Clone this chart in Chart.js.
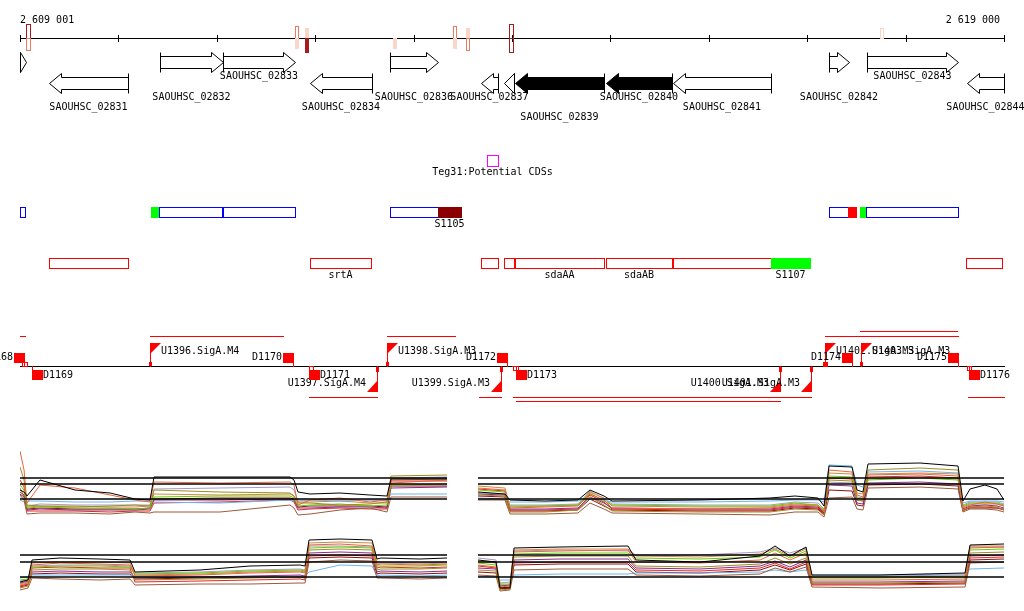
<!DOCTYPE html>
<html>
<head>
<meta charset="utf-8">
<script src="https://cdn.jsdelivr.net/npm/chart.js@4.4.1/dist/chart.umd.min.js"></script>
<style>
  body { margin: 0; background: #fff; width: 1024px; height: 611px; overflow: hidden; position: relative; }
  canvas { position: absolute; left: 0; }
</style>
</head>
<body>
<canvas id="genomeChart" width="1024" height="430" style="top:0px"></canvas>
<canvas id="plusChart" width="1024" height="85" style="top:440px"></canvas>
<canvas id="minusChart" width="1024" height="81" style="top:530px"></canvas>
<script>
// genomic window shown
const viewStart = 2609001;
const viewEnd = 2619000;
const axisTicks = [2609001, 2610000, 2611000, 2612000, 2613000, 2614000, 2615000, 2616000, 2617000, 2618000, 2619000];

// annotated CDS
const geneNames = ["", "SAOUHSC_02831", "SAOUHSC_02832", "SAOUHSC_02833", "SAOUHSC_02834", "SAOUHSC_02836", "SAOUHSC_02837", "", "SAOUHSC_02839", "SAOUHSC_02840", "SAOUHSC_02841", "SAOUHSC_02842", "SAOUHSC_02843", "SAOUHSC_02844"];
const geneStart = [2608420, 2609296, 2610424, 2611064, 2611948, 2612761, 2613686, 2613919, 2614031, 2614956, 2615637, 2617222, 2617608, 2618624];
const geneEnd = [2609062, 2610099, 2611064, 2611795, 2612578, 2613249, 2613858, 2614021, 2614935, 2615626, 2616632, 2617425, 2618533, 2619230];
const geneStrand = ["+", "-", "+", "+", "-", "+", "-", "-", "-", "-", "-", "+", "+", "-"];
const geneSelected = [false, false, false, false, false, false, false, false, true, true, false, false, false, false];
const geneLabelLane = [-1, 2, 1, 0, 2, 1, 1, -1, 3, 1, 2, 1, 0, 2];

// signals on the coordinate axis
const signalStart = [2609062, 2609062, 2611795, 2611795, 2611897, 2611897, 2612791, 2613401, 2613401, 2613533, 2613533, 2613970, 2613970, 2617740];
const signalEnd = [2609103, 2609103, 2611826, 2611826, 2611917, 2611917, 2612811, 2613431, 2613431, 2613553, 2613553, 2614011, 2614011, 2617771];
const signalStrand = ["+", "-", "+", "-", "+", "-", "-", "+", "-", "+", "-", "+", "-", "+"];
const signalLevel = [3, 2, 2, 1, 1, 3, 1, 2, 1, 1, 2, 3, 3, 1];
const signalFilled = [false, false, false, true, true, true, true, false, true, true, false, false, false, false];

// Teg31 potential CDS
const potentialStart = [2613747];
const potentialEnd = [2613858];
const potentialLabel = "Teg31:Potential CDSs";

// segment tracks
const upperSegStart = [2608800, 2610332, 2610413, 2611064, 2612761, 2613249, 2617222, 2617415, 2617537, 2617598];
const upperSegEnd = [2609052, 2610413, 2611054, 2611795, 2613249, 2613482, 2617415, 2617496, 2617598, 2618533];
const upperSegKind = ["blue", "green", "blue", "blue", "blue", "dark", "blue", "mark", "green", "blue"];
const upperSegLabel = ["", "", "", "", "", "S1105", "", "", "", ""];

const lowerSegStart = [2609296, 2611948, 2613686, 2613919, 2614031, 2614956, 2615637, 2616632, 2618614];
const lowerSegEnd = [2610099, 2612568, 2613858, 2614021, 2614935, 2615626, 2616632, 2617029, 2618980];
const lowerSegKind = ["red", "red", "red", "red", "red", "red", "red", "green", "red"];
const lowerSegLabel = ["", "srtA", "", "", "sdaAA", "sdaAB", "", "S1107", ""];

// transcription units, promoters, terminators
const tuStart = [2608700, 2610322, 2612730, 2617181, 2617537, 2611938, 2613665, 2614011, 2614041, 2618634];
const tuEnd = [2609052, 2611674, 2613421, 2618533, 2618522, 2612629, 2613889, 2617039, 2616724, 2619300];
const tuStrand = ["+", "+", "+", "+", "+", "-", "-", "-", "-", "-"];
const tuLane = [0, 0, 0, 0, 1, 0, 0, 0, 1, 0];

const promoterNames = ["U1396.SigA.M4", "U1397.SigA.M4", "U1398.SigA.M3", "U1399.SigA.M3", "U1400.SigA.M3", "U1401.SigA.M3", "U1402.SigA.M3", "U1403.SigA.M3"];
const promoterPos = [2610322, 2612629, 2612730, 2613889, 2616724, 2617039, 2617181, 2617547];
const promoterStrand = ["+", "-", "+", "-", "-", "-", "+", "+"];

const terminatorNames = ["D1168", "D1169", "D1170", "D1171", "D1172", "D1173", "D1174", "D1175", "D1176"];
const terminatorPos = [2609042, 2609123, 2611775, 2611938, 2613950, 2614041, 2617455, 2618533, 2618644];
const terminatorStrand = ["+", "-", "+", "-", "+", "-", "+", "+", "-"];

const weakTermStart = [2609021, 2611938, 2614011, 2617161, 2618624];
const weakTermEnd = [2609072, 2611979, 2614061, 2617201, 2618665];
const weakTermStrand = ["+", "-", "-", "+", "-"];

// expression profiles (log2), one row per condition, black first
const plusLeftPos = [2609001, 2609042, 2609072, 2609204, 2609560, 2609916, 2610170, 2610322, 2610363, 2611033, 2611745, 2611785, 2611826, 2611948, 2612253, 2612557, 2612730, 2612771, 2613340];
const plusLeftLevels = [
  [9.5, 9.3, 8.9, 10.5, 9.5, 9.2, 8.6, 8.5, 10.8, 10.8, 10.8, 10.5, 9.3, 9.1, 9.2, 9.0, 8.9, 10.6, 10.6],
  [13.4, 11.5, 8.2, 10.0, 9.7, 9.0, 8.5, 8.3, 10.3, 10.2, 10.3, 10.0, 8.0, 8.5, 8.7, 8.3, 8.5, 10.2, 10.5],
  [11.8, 10.5, 8.0, 7.9, 7.8, 7.9, 8.0, 7.9, 9.5, 9.3, 9.2, 8.9, 8.2, 8.2, 8.0, 8.1, 8.3, 10.9, 11.0],
  [9.0, 8.5, 7.1, 7.2, 7.2, 7.1, 7.3, 7.2, 7.3, 7.3, 8.0, 7.7, 7.0, 7.1, 7.5, 7.7, 7.3, 8.8, 8.8],
  [10.0, 9.5, 7.7, 7.8, 7.7, 7.7, 7.6, 7.7, 8.8, 8.9, 8.9, 8.7, 7.9, 8.0, 8.1, 7.9, 8.0, 10.0, 10.1],
  [9.3, 9.0, 7.5, 7.6, 7.5, 7.5, 7.5, 7.6, 8.5, 8.5, 8.6, 8.5, 7.7, 7.7, 7.8, 7.8, 7.7, 9.7, 9.8],
  [8.7, 8.6, 8.4, 8.4, 8.3, 8.3, 8.4, 8.4, 8.3, 8.2, 8.5, 8.4, 8.5, 8.5, 8.4, 8.5, 8.5, 9.1, 9.1],
  [10.5, 9.8, 7.4, 7.4, 7.4, 7.3, 7.4, 7.4, 8.2, 8.3, 8.5, 8.3, 7.5, 7.6, 7.7, 7.6, 7.6, 10.4, 10.4],
  [9.7, 8.9, 7.8, 7.9, 7.9, 7.8, 7.8, 7.9, 9.1, 9.0, 9.1, 8.9, 8.3, 8.3, 8.4, 8.2, 8.2, 10.5, 10.6],
  [8.5, 8.3, 7.9, 8.1, 8.0, 8.0, 8.0, 8.0, 9.6, 9.7, 9.8, 9.5, 8.4, 8.5, 8.5, 8.5, 8.4, 10.7, 10.8],
  [9.1, 8.8, 7.6, 7.7, 7.6, 7.6, 7.6, 7.7, 8.6, 8.7, 8.7, 8.6, 7.8, 7.9, 7.9, 7.9, 7.8, 9.9, 9.9]
];

const plusRightPos = [2613655, 2613929, 2613980, 2614336, 2614671, 2614793, 2614935, 2615017, 2615911, 2616622, 2616876, 2617110, 2617171, 2617222, 2617455, 2617506, 2617567, 2617618, 2618146, 2618533, 2618583, 2618655, 2618807, 2618929, 2619000];
const plusRightLevels = [
  [9.3, 9.1, 8.5, 8.4, 8.5, 9.5, 8.9, 8.4, 8.5, 8.7, 8.9, 8.7, 7.9, 11.9, 11.8, 9.5, 9.3, 12.1, 12.2, 11.9, 8.4, 9.6, 10.0, 9.6, 8.5],
  [9.7, 9.5, 7.7, 7.8, 7.9, 9.1, 8.5, 7.7, 7.6, 7.7, 8.0, 7.9, 7.3, 11.5, 11.3, 9.0, 8.8, 11.0, 11.1, 10.9, 7.7, 8.0, 8.3, 8.1, 7.9],
  [9.0, 8.9, 7.3, 7.3, 7.5, 8.8, 8.0, 7.4, 7.3, 7.3, 7.6, 7.5, 7.0, 10.5, 10.4, 8.5, 8.4, 11.5, 11.7, 11.5, 7.5, 7.8, 7.9, 7.8, 7.5],
  [8.5, 8.5, 7.1, 7.1, 7.2, 8.2, 7.6, 7.2, 7.1, 7.0, 7.3, 7.3, 6.8, 8.7, 8.8, 7.6, 7.5, 9.7, 9.8, 9.6, 7.3, 7.6, 7.6, 7.5, 7.3],
  [9.5, 9.3, 7.9, 7.9, 8.0, 9.2, 8.4, 8.0, 7.9, 7.9, 8.2, 8.0, 7.5, 10.9, 10.8, 8.7, 8.6, 10.5, 10.7, 10.5, 7.9, 8.2, 8.2, 8.2, 8.0],
  [9.1, 9.0, 7.6, 7.6, 7.7, 8.8, 8.2, 7.7, 7.6, 7.6, 7.9, 7.8, 7.2, 10.0, 9.9, 8.2, 8.1, 10.2, 10.3, 10.1, 7.6, 7.9, 8.0, 7.9, 7.7],
  [8.7, 8.6, 8.3, 8.3, 8.4, 8.6, 8.5, 8.3, 8.3, 8.4, 8.5, 8.5, 8.3, 12.0, 11.9, 10.0, 9.8, 11.3, 11.4, 11.2, 8.2, 8.4, 8.4, 8.4, 8.3],
  [9.6, 9.4, 7.5, 7.5, 7.6, 9.0, 8.3, 7.6, 7.5, 7.5, 7.8, 7.7, 7.1, 10.7, 10.6, 8.5, 8.4, 10.8, 10.9, 10.7, 7.4, 7.8, 7.8, 7.7, 7.6],
  [9.9, 9.7, 7.8, 7.9, 8.0, 9.3, 8.7, 7.9, 7.8, 7.8, 8.1, 8.0, 7.4, 11.2, 11.1, 9.2, 9.1, 11.1, 11.2, 11.1, 7.8, 8.1, 8.1, 8.1, 7.9],
  [9.2, 9.1, 8.0, 8.0, 8.1, 9.4, 8.6, 8.1, 8.0, 8.0, 8.3, 8.2, 7.6, 10.3, 10.2, 8.8, 8.7, 10.6, 10.8, 10.6, 8.0, 8.3, 8.3, 8.3, 8.1],
  [8.9, 8.8, 7.4, 7.4, 7.5, 8.6, 7.9, 7.5, 7.4, 7.4, 7.7, 7.6, 7.0, 9.5, 9.4, 8.0, 7.9, 10.0, 10.1, 9.9, 7.5, 7.7, 7.7, 7.7, 7.5]
];

const minusLeftPos = [2609001, 2609082, 2609123, 2609408, 2609814, 2610119, 2610170, 2610830, 2611338, 2611846, 2611897, 2611938, 2612253, 2612578, 2612629, 2612669, 2613066, 2613340];
const minusLeftLevels = [
  [9.3, 9.5, 11.5, 11.7, 11.6, 11.5, 10.3, 10.5, 10.9, 11.0, 10.9, 13.5, 13.6, 13.5, 11.6, 11.7, 11.6, 11.7],
  [9.0, 9.2, 11.0, 11.2, 11.1, 11.0, 9.9, 10.0, 10.2, 10.3, 10.2, 13.0, 13.1, 12.9, 11.0, 11.1, 11.0, 11.1],
  [8.7, 8.9, 10.5, 10.6, 10.6, 10.5, 9.5, 9.6, 9.7, 9.8, 9.8, 12.5, 12.6, 12.5, 10.5, 10.6, 10.6, 10.7],
  [8.5, 8.7, 9.7, 9.6, 9.5, 9.6, 9.0, 9.1, 9.1, 9.2, 9.2, 11.3, 11.5, 11.4, 9.7, 9.7, 9.6, 9.7],
  [9.5, 9.6, 10.8, 10.9, 10.9, 10.8, 10.1, 10.2, 10.4, 10.5, 10.4, 12.7, 12.8, 12.7, 10.9, 10.9, 10.9, 11.0],
  [9.2, 9.4, 10.3, 10.4, 10.3, 10.3, 9.7, 9.8, 9.9, 10.0, 9.9, 12.2, 12.3, 12.2, 10.3, 10.4, 10.3, 10.4],
  [9.7, 9.8, 10.0, 10.0, 10.0, 10.0, 9.8, 9.8, 9.8, 9.9, 9.9, 10.3, 11.0, 10.9, 9.9, 10.0, 9.9, 10.0],
  [8.9, 9.1, 10.7, 10.8, 10.7, 10.7, 9.3, 9.4, 9.5, 9.6, 9.5, 11.9, 12.0, 11.9, 10.7, 10.8, 10.7, 10.8],
  [9.1, 9.3, 11.2, 11.3, 11.3, 11.2, 10.0, 10.1, 10.3, 10.4, 10.3, 13.2, 13.3, 13.2, 11.3, 11.3, 11.2, 11.3],
  [9.4, 9.5, 10.9, 11.0, 11.0, 10.9, 10.2, 10.3, 10.5, 10.6, 10.5, 12.9, 12.9, 12.8, 11.1, 11.2, 11.1, 11.2],
  [8.8, 9.0, 10.1, 10.2, 10.1, 10.1, 9.6, 9.7, 9.8, 9.8, 9.7, 11.7, 11.8, 11.7, 10.1, 10.2, 10.1, 10.2]
];

const minusRightPos = [2613655, 2613838, 2613879, 2613980, 2614021, 2614488, 2615179, 2615261, 2615911, 2616521, 2616673, 2616825, 2616988, 2617049, 2617740, 2618604, 2618655, 2619000];
const minusRightLevels = [
  [11.5, 11.3, 8.7, 8.7, 12.7, 12.8, 12.9, 11.5, 11.3, 11.9, 12.9, 11.9, 12.8, 10.0, 10.0, 10.2, 13.0, 13.1],
  [11.0, 10.8, 8.8, 8.9, 12.3, 12.4, 12.5, 11.3, 11.2, 11.5, 12.2, 11.5, 12.2, 9.5, 9.5, 9.6, 12.7, 12.8],
  [10.5, 10.4, 8.5, 8.6, 11.8, 11.9, 11.9, 10.9, 10.8, 11.1, 11.7, 11.1, 11.7, 9.2, 9.2, 9.3, 12.2, 12.3],
  [10.0, 9.9, 8.4, 8.5, 10.5, 10.6, 10.6, 10.0, 9.9, 10.1, 10.7, 10.3, 10.8, 8.8, 8.7, 8.8, 11.2, 11.3],
  [11.2, 11.0, 9.1, 9.1, 12.1, 12.2, 12.2, 11.7, 11.6, 11.8, 12.5, 11.7, 12.4, 9.7, 9.7, 9.8, 12.5, 12.6],
  [10.7, 10.6, 8.9, 9.0, 11.5, 11.6, 11.6, 10.7, 10.6, 10.9, 11.4, 10.8, 11.5, 9.3, 9.3, 9.4, 11.9, 12.0],
  [9.9, 9.8, 9.5, 9.5, 10.0, 10.1, 10.1, 10.2, 10.2, 10.3, 10.5, 10.3, 10.5, 10.0, 10.0, 10.1, 10.6, 10.7],
  [10.9, 10.7, 8.6, 8.7, 11.2, 11.3, 11.3, 10.5, 10.4, 10.7, 11.2, 10.6, 11.3, 9.0, 9.0, 9.1, 11.7, 11.8],
  [11.4, 11.2, 9.0, 9.0, 12.5, 12.6, 12.6, 11.9, 11.8, 12.1, 12.6, 11.9, 12.6, 9.8, 9.8, 9.9, 12.9, 12.9],
  [11.7, 11.5, 9.2, 9.3, 12.4, 12.5, 12.4, 12.0, 12.0, 12.3, 12.7, 12.2, 12.7, 9.9, 9.9, 10.0, 12.8, 12.8],
  [10.3, 10.2, 8.7, 8.8, 11.0, 11.1, 11.1, 10.3, 10.2, 10.5, 11.0, 10.5, 11.1, 9.1, 9.1, 9.2, 11.5, 11.6]
];

// reference levels drawn as black lines
const plusThresholds = [10.7, 10.1, 8.6];
const minusThresholds = [12.0, 11.3, 9.8];

// ---- styling / layout ----
const FONT = "10px 'DejaVu Sans Mono', 'Liberation Mono', monospace";
const seriesColors = ["#000000", "#e8643c", "#a08c1e", "#9b5a3c", "#66cc00", "#8a2b8a", "#6cb4ee", "#dc2828", "#d08840", "#a898c8", "#8c1010"];
const signalColors = [null, "#fbd6c8", "#f07a60", "#a51c1c"];
const signalHeights = [0, 10, 12, 14];
const segColors = { blue: "#0000ff", red: "#ff0000", green: "#00ff00", dark: "#8b0000", mark: "#ff0000" };
const rows = { axisLabel: 20, axis: 38, plusGene: 62, minusGene: 83, potential: 155, upperSeg: 207, lowerSeg: 258, signals: 366 };
const geneLabelY = [76, 97, 107, 117];
const tuPlusY = [336, 331];
const tuMinusY = [397, 401];

function fmtPos(n) {
  return String(n).replace(/\B(?=(\d{3})+(?!\d))/g, " ");
}

const genomePlugin = {
  id: "genomeTracks",
  afterDraw(chart) {
    const ctx = chart.ctx;
    const xs = chart.scales.x;
    const ys = chart.scales.y;
    const X = g => Math.round(xs.getPixelForValue(Math.min(Math.max(g, viewStart), viewEnd)));
    const Y = v => Math.round(ys.getPixelForValue(v));

    ctx.save();
    ctx.lineWidth = 1;
    ctx.font = FONT;
    ctx.textBaseline = "middle";

    const hline = (x1, x2, y, color) => {
      ctx.strokeStyle = color;
      ctx.beginPath(); ctx.moveTo(x1, y + 0.5); ctx.lineTo(x2 + 1, y + 0.5); ctx.stroke();
    };
    const vline = (x, y1, y2, color) => {
      ctx.strokeStyle = color;
      ctx.beginPath(); ctx.moveTo(x + 0.5, y1); ctx.lineTo(x + 0.5, y2 + 1); ctx.stroke();
    };
    const box = (x1, y1, x2, y2, color, filled) => {
      if (filled) {
        ctx.fillStyle = color;
        ctx.fillRect(x1, y1, x2 - x1 + 1, y2 - y1 + 1);
      } else {
        ctx.strokeStyle = color;
        ctx.strokeRect(x1 + 0.5, y1 + 0.5, x2 - x1, y2 - y1);
      }
    };
    const label = (s, x, y, align) => {
      if (!s) return;
      ctx.fillStyle = "#000";
      ctx.textAlign = align;
      ctx.fillText(s, x, y);
    };

    // coordinate axis
    const ay = Y(rows.axis);
    hline(X(viewStart), X(viewEnd), ay, "#000");
    axisTicks.forEach(t => vline(X(t), ay - 3, ay + 3, "#000"));
    label(fmtPos(viewStart), X(viewStart), Y(rows.axisLabel), "left");
    label(fmtPos(viewEnd), X(viewEnd) - 4, Y(rows.axisLabel), "right");

    signalStart.forEach((s, i) => {
      const a = X(s);
      const b = Math.max(X(signalEnd[i]), a + 3);
      const h = signalHeights[signalLevel[i]];
      const up = signalStrand[i] === "+";
      box(a, up ? ay - h : ay, b, up ? ay : ay + h, signalColors[signalLevel[i]], signalFilled[i]);
    });

    // genes as arrows
    geneStart.forEach((s, i) => {
      const plus = geneStrand[i] === "+";
      const cy = Y(plus ? rows.plusGene : rows.minusGene) + 0.5;
      const a = X(s) + 0.5;
      const b = X(geneEnd[i]) + 0.5;
      const head = Math.min(12, b - a);
      ctx.beginPath();
      if (plus) {
        ctx.moveTo(a, cy - 6); ctx.lineTo(b - head, cy - 6); ctx.lineTo(b - head, cy - 10);
        ctx.lineTo(b, cy); ctx.lineTo(b - head, cy + 10); ctx.lineTo(b - head, cy + 6); ctx.lineTo(a, cy + 6);
      } else {
        ctx.moveTo(b, cy - 6); ctx.lineTo(a + head, cy - 6); ctx.lineTo(a + head, cy - 10);
        ctx.lineTo(a, cy); ctx.lineTo(a + head, cy + 10); ctx.lineTo(a + head, cy + 6); ctx.lineTo(b, cy + 6);
      }
      ctx.closePath();
      ctx.fillStyle = geneSelected[i] ? "#000" : "#fff";
      ctx.fill();
      ctx.strokeStyle = "#000";
      ctx.stroke();
      const bar = plus ? a : b;
      ctx.beginPath(); ctx.moveTo(bar, cy - 10); ctx.lineTo(bar, cy + 10); ctx.stroke();
      if (geneLabelLane[i] >= 0) {
        label(geneNames[i], (X(s) + X(geneEnd[i])) / 2, Y(geneLabelY[geneLabelLane[i]]), "center");
      }
    });

    // potential CDS
    potentialStart.forEach((s, i) => {
      const py = Y(rows.potential);
      box(X(s), py, X(potentialEnd[i]), py + 11, "#ff00ff", false);
      label(potentialLabel, (X(s) + X(potentialEnd[i])) / 2, py + 17, "center");
    });

    // segment tracks
    const drawSegs = (starts, ends, kinds, names, top) => {
      const py = Y(top);
      starts.forEach((s, i) => {
        const outline = kinds[i] === "blue" || kinds[i] === "red";
        box(X(s), py, X(ends[i]), py + 10, segColors[kinds[i]], !outline);
        label(names[i], (X(s) + X(ends[i])) / 2, py + 17, "center");
      });
    };
    drawSegs(upperSegStart, upperSegEnd, upperSegKind, upperSegLabel, rows.upperSeg);
    drawSegs(lowerSegStart, lowerSegEnd, lowerSegKind, lowerSegLabel, rows.lowerSeg);

    // promoters / terminators track
    const sy = Y(rows.signals);
    const red = "#ff0000";
    hline(X(viewStart), X(viewEnd), sy, "#000");

    tuStart.forEach((s, i) => {
      const y = tuStrand[i] === "+" ? tuPlusY[tuLane[i]] : tuMinusY[tuLane[i]];
      hline(X(s), X(tuEnd[i]), Y(y), red);
    });

    weakTermStart.forEach((s, i) => {
      const up = weakTermStrand[i] === "+";
      box(X(s), up ? sy - 4 : sy, X(weakTermEnd[i]), up ? sy : sy + 4, red, false);
    });

    promoterPos.forEach((p, i) => {
      const x = X(p);
      ctx.fillStyle = red;
      if (promoterStrand[i] === "+") {
        ctx.fillRect(x - 1, sy - 4, 3, 4);
        vline(x, sy - 23, sy, red);
        ctx.fillStyle = red;
        ctx.beginPath(); ctx.moveTo(x, sy - 23); ctx.lineTo(x + 11, sy - 23); ctx.lineTo(x, sy - 12); ctx.closePath(); ctx.fill();
        label(promoterNames[i], x + 11, sy - 15, "left");
      } else {
        ctx.fillRect(x - 1, sy + 1, 3, 5);
        vline(x, sy, sy + 25, red);
        ctx.fillStyle = red;
        ctx.beginPath(); ctx.moveTo(x + 1, sy + 14); ctx.lineTo(x + 1, sy + 26); ctx.lineTo(x - 10, sy + 26); ctx.closePath(); ctx.fill();
        label(promoterNames[i], x - 11, sy + 17, "right");
      }
    });

    terminatorPos.forEach((p, i) => {
      const x = X(p);
      if (terminatorStrand[i] === "+") {
        vline(x, sy - 4, sy, red);
        box(x - 10, sy - 13, x, sy - 4, red, true);
        label(terminatorNames[i], x - 11, sy - 9, "right");
      } else {
        vline(x, sy, sy + 4, red);
        box(x, sy + 4, x + 10, sy + 13, red, true);
        label(terminatorNames[i], x + 11, sy + 9, "left");
      }
    });

    ctx.restore();
  }
};

new Chart(document.getElementById("genomeChart"), {
  type: "scatter",
  data: { datasets: [] },
  options: {
    responsive: false,
    animation: false,
    devicePixelRatio: 1,
    events: [],
    layout: { padding: { left: 20, right: 20, top: 0, bottom: 0 } },
    scales: {
      x: { type: "linear", min: viewStart, max: viewEnd, bounds: "data", display: false },
      y: { type: "linear", min: 0, max: 430, reverse: true, display: false }
    },
    plugins: { legend: { display: false }, tooltip: { enabled: false } }
  },
  plugins: [genomePlugin]
});

function profileDatasets(positions, levels) {
  return levels.map((vals, i) => ({
    data: positions.map((x, j) => ({ x: x, y: vals[j] })),
    borderColor: seriesColors[i],
    borderWidth: 1,
    pointRadius: 0,
    tension: 0,
    fill: false
  }));
}

function thresholdDatasets(values, ranges) {
  const out = [];
  values.forEach(v => {
    ranges.forEach(r => {
      out.push({
        data: [{ x: r[0], y: v }, { x: r[1], y: v }],
        borderColor: "#000",
        borderWidth: 1.3,
        pointRadius: 0,
        fill: false
      });
    });
  });
  return out;
}

function expressionChart(id, leftPos, leftLevels, rightPos, rightLevels, thresholds, yMin, yMax) {
  const ranges = [[leftPos[0], leftPos[leftPos.length - 1]], [rightPos[0], rightPos[rightPos.length - 1]]];
  const datasets = thresholdDatasets(thresholds, ranges)
    .concat(profileDatasets(leftPos, leftLevels))
    .concat(profileDatasets(rightPos, rightLevels));
  return new Chart(document.getElementById(id), {
    type: "line",
    data: { datasets },
    options: {
      responsive: false,
      animation: false,
      devicePixelRatio: 1,
      events: [],
      layout: { padding: { left: 20, right: 20, top: 0, bottom: 0 } },
      scales: {
        x: { type: "linear", min: viewStart, max: viewEnd, bounds: "data", display: false },
        y: { type: "linear", min: yMin, max: yMax, display: false }
      },
      plugins: { legend: { display: false }, tooltip: { enabled: false } }
    }
  });
}

expressionChart("plusChart", plusLeftPos, plusLeftLevels, plusRightPos, plusRightLevels, plusThresholds, 6.0, 14.5);
expressionChart("minusChart", minusLeftPos, minusLeftLevels, minusRightPos, minusRightLevels, minusThresholds, 6.4, 14.5);
</script>
</body>
</html>
